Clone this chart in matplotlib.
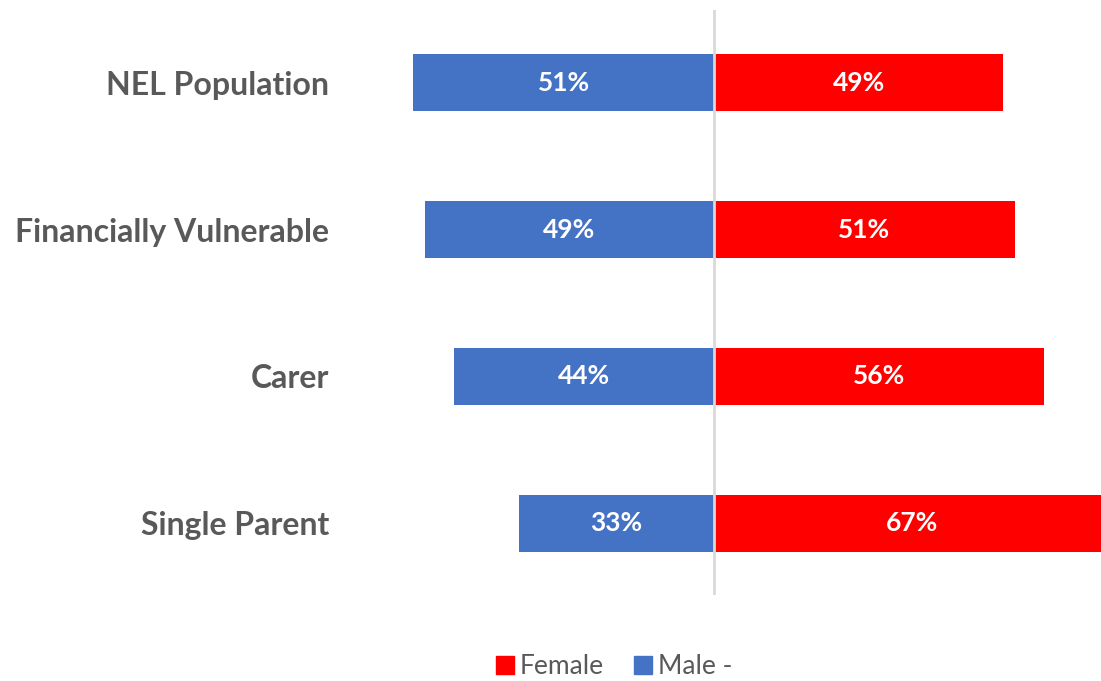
import numpy as np
import matplotlib.pyplot as plt
from matplotlib.lines import Line2D

# Gender split per group (percent)
categories = ["NEL Population", "Financially Vulnerable", "Carer", "Single Parent"]
male = [51, 49, 44, 33]
female = [49, 51, 56, 67]

BLUE = "#4472C4"
RED = "#FF0000"
GREY_TEXT = "#595959"

plt.rcParams['font.family'] = ['Lato', 'DejaVu Sans']

fig = plt.figure(figsize=(11.01, 6.81), dpi=100)
# axes placed in pixel terms: centre line sits at x=714
W, H = 1101, 681
x0, x1 = 340, 1101
y_top, y_bot = 10, 595
ax = fig.add_axes([x0 / W, (H - y_bot) / H, (x1 - x0) / W, (y_bot - y_top) / H])

scale = 5.9  # px per percent
ax.set_xlim(-(714 - x0) / scale, (x1 - 714) / scale)
ax.set_ylim(-72 / 147, 3 + 73 / 147)

ypos = np.arange(len(categories))[::-1]
ax.barh(ypos, [-m for m in male], height=0.39, color=BLUE, edgecolor="none")
ax.barh(ypos, female, height=0.39, color=RED, edgecolor="none")
ax.axvline(0, color="#D9D9D9", lw=2)

for y, m, f in zip(ypos, male, female):
    ax.text(-m / 2, y, f"{m}%", ha="center", va="center", color="white",
            fontsize=19, fontweight="bold")
    ax.text(f / 2, y, f"{f}%", ha="center", va="center", color="white",
            fontsize=19, fontweight="bold")

ax.set_yticks(ypos)
ax.set_yticklabels(categories, fontsize=23, fontweight="bold", color=GREY_TEXT)
ax.tick_params(axis="y", length=0, pad=8)
ax.set_xticks([])
for s in ax.spines.values():
    s.set_visible(False)

handles = [Line2D([], [], marker="s", ls="", color=RED, markersize=13),
           Line2D([], [], marker="s", ls="", color=BLUE, markersize=13)]
fig.legend(handles, ["Female", "Male -"], loc="center", bbox_to_anchor=(612 / W, 1 - 667 / H),
           ncol=2, frameon=False, fontsize=19, labelcolor=GREY_TEXT,
           handletextpad=0.05, columnspacing=1.0, handlelength=1.0)

fig.savefig("out.png", dpi=100)
